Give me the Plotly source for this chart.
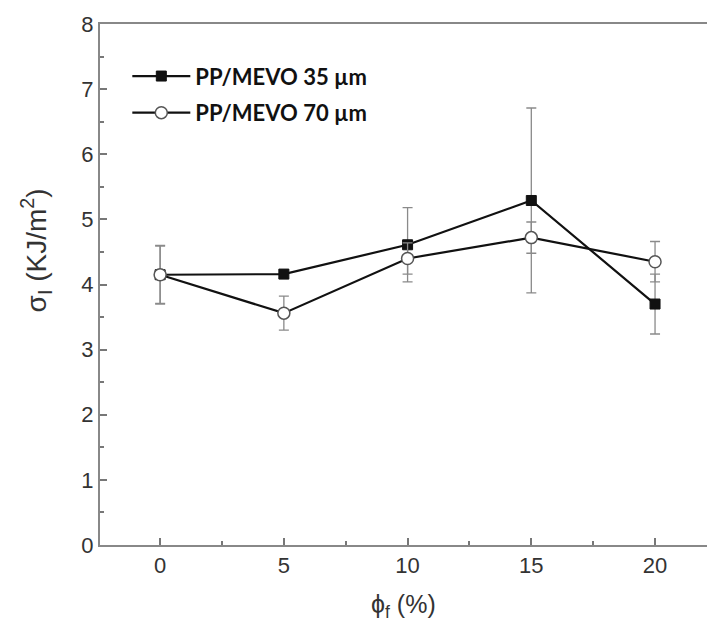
import plotly.graph_objects as go

phi = [0, 5, 10, 15, 20]
sigma_35 = [4.15, 4.16, 4.61, 5.29, 3.70]
err_35 = [0.45, 0.06, 0.57, 1.42, 0.46]
sigma_70 = [4.15, 3.56, 4.40, 4.72, 4.35]
err_70 = [0.44, 0.26, 0.24, 0.24, 0.31]
names = ["PP/MEVO 35 µm", "PP/MEVO 70 µm"]

fig = go.Figure()
fig.add_trace(go.Scatter(
    x=phi, y=sigma_35, name=names[0], mode="lines+markers",
    line=dict(color="#111111", width=2.2),
    marker=dict(symbol="square", size=10, color="#111111", line=dict(color="#111111", width=1)),
    error_y=dict(type="data", array=err_35, visible=True, color="#8a8a8a", thickness=1.3, width=5),
    legendgroup="a",
))
fig.add_trace(go.Scatter(
    x=phi, y=sigma_70, name=names[1], mode="lines+markers",
    line=dict(color="#111111", width=2.2),
    marker=dict(symbol="circle", size=12, color="white", line=dict(color="#555555", width=1.5)),
    error_y=dict(type="data", array=err_70, visible=True, color="#8a8a8a", thickness=1.3, width=5),
    legendgroup="b",
))

axis_font = dict(family="Liberation Sans, Arial, sans-serif", size=22, color="#333333")
fig.update_xaxes(
    range=[-2.43, 22.1], tickmode="linear", tick0=0, dtick=5,
    ticks="inside", ticklen=7, tickwidth=1.5, tickcolor="#777777",
    minor=dict(ticks="inside", ticklen=4, dtick=2.5, tickcolor="#777777", tickwidth=1.5),
    showline=True, linecolor="#888888", linewidth=2, mirror=True,
    showgrid=False, zeroline=False, tickfont=axis_font,
)
fig.update_yaxes(
    range=[0, 8], tickmode="linear", tick0=0, dtick=1,
    ticks="inside", ticklen=7, tickwidth=1.5, tickcolor="#777777",
    minor=dict(ticks="inside", ticklen=4, dtick=0.5, tickcolor="#777777", tickwidth=1.5),
    showline=True, linecolor="#888888", linewidth=2, mirror=False,
    showgrid=False, zeroline=False, tickfont=axis_font,
)

fig.add_annotation(
    text="σ<sub>I</sub> (KJ/m<sup>2</sup>)", xref="paper", yref="paper",
    x=-0.105, y=0.566, textangle=-90, showarrow=False,
    font=dict(family="Liberation Sans, Arial, sans-serif", size=28, color="#333333"),
    xanchor="center", yanchor="middle",
)
fig.add_annotation(
    text="ϕ<sub>f</sub> (%)", xref="paper", yref="paper",
    x=0.5, y=-0.118, showarrow=False,
    font=dict(family="Liberation Sans, Arial, sans-serif", size=25, color="#333333"),
    xanchor="center", yanchor="middle",
)

fig.update_layout(
    width=707, height=625,
    margin=dict(l=100, r=0, t=24, b=80),
    plot_bgcolor="white", paper_bgcolor="white",
    showlegend=True,
    legend=dict(
        x=0.045, y=0.94, xanchor="left", yanchor="top",
        bgcolor="rgba(0,0,0,0)", itemwidth=58, tracegroupgap=5,
        font=dict(family="Lato, sans-serif", size=22, color="#111111", weight="bold"),
    ),
)

fig.write_html(
    "out.html",
    config={"displayModeBar": False},
    post_script="document.body.style.margin='0';document.body.style.overflow='hidden';",
)
